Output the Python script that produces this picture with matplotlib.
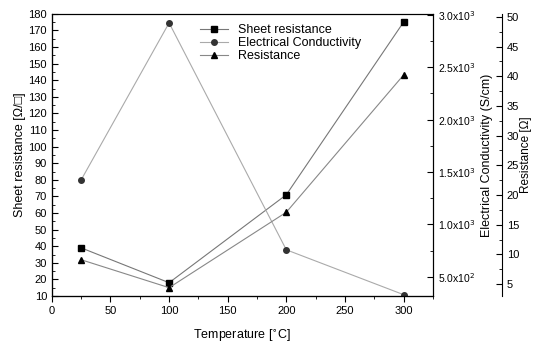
import matplotlib
matplotlib.use('Agg')
import matplotlib.pyplot as plt
from matplotlib.ticker import MultipleLocator

plt.rcParams['font.family'] = ['Liberation Sans', 'DejaVu Sans']

temp = [25, 100, 200, 300]
sheet_res = [39, 18, 71, 175]
conductivity = [1426, 2924, 758, 330]
resistance = [9.1, 4.4, 17.1, 40.2]

cond_ticks = [500, 1000, 1500, 2000, 2500, 3000]
cond_labels = ['5.0x10$^2$', '1.0x10$^3$', '1.5x10$^3$', '2.0x10$^3$', '2.5x10$^3$', '3.0x10$^3$']

fig = plt.figure(figsize=(5.35, 3.47), dpi=100)
ax = fig.add_axes([0.097, 0.147, 0.712, 0.813])
ax2 = ax.twinx()
ax3 = ax.twinx()
ax3.spines['right'].set_position(('axes', 1.181))
ax3.spines['top'].set_visible(False)

l1, = ax.plot(temp, sheet_res, color='#777777', lw=0.8, marker='s', ms=5,
              mfc='black', mec='black', label='Sheet resistance')
l2, = ax2.plot(temp, conductivity, color='#aaaaaa', lw=0.8, marker='o', ms=4,
               mfc='#333333', mec='#333333', label='Electrical Conductivity')
l3, = ax3.plot(temp, resistance, color='#888888', lw=0.8, marker='^', ms=5,
               mfc='black', mec='black', label='Resistance')

ax.set_xlim(0, 325)
ax.set_ylim(10, 180)
ax2.set_ylim(317, 3010)
ax3.set_ylim(3, 50.5)

ax.xaxis.set_major_locator(MultipleLocator(50))
ax.xaxis.set_minor_locator(MultipleLocator(25))
ax.yaxis.set_major_locator(MultipleLocator(10))
ax.yaxis.set_minor_locator(MultipleLocator(5))
ax2.set_yticks(cond_ticks)
ax2.set_yticklabels(cond_labels)
ax2.yaxis.set_minor_locator(MultipleLocator(250))
ax3.yaxis.set_major_locator(MultipleLocator(5))
ax3.yaxis.set_minor_locator(MultipleLocator(2.5))

ax.tick_params(axis='x', which='both', direction='out', labelsize=8)
ax.tick_params(axis='y', which='both', direction='in', labelsize=8)
ax2.tick_params(axis='y', which='both', direction='in', labelsize=7.5)
ax3.tick_params(axis='y', which='both', direction='in', labelsize=8)
for a in (ax, ax2, ax3):
    a.tick_params(which='major', length=4)
    a.tick_params(which='minor', length=2)

ax.set_xlabel('Temperature [$^{\\circ}$C]', fontsize=9, labelpad=8)
ax.set_ylabel('Sheet resistance [Ω/□]', fontsize=9, labelpad=2)
ax2.set_ylabel('Electrical Conductivity (S/cm)', fontsize=9)
ax3.set_ylabel('Resistance [Ω]', fontsize=8.5, labelpad=1)

ax.legend(handles=[l1, l2, l3], loc='upper center', bbox_to_anchor=(0.6, 1.0),
          frameon=False, fontsize=9, handlelength=2.2, labelspacing=0.1,
          borderpad=0.3)

fig.savefig('out.png', dpi=100)
